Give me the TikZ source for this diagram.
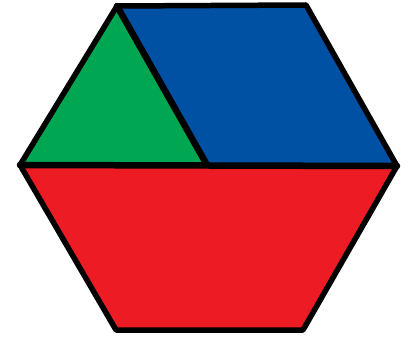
\documentclass[tikz,border=0pt]{standalone}
\definecolor{hgreen}{RGB}{0,166,81}
\definecolor{hblue}{RGB}{0,80,164}
\definecolor{hred}{RGB}{237,28,36}
\tikzset{edge/.style={draw=black,line width=5.5pt,line join=round,line cap=round},
  inner/.style={draw=black,line width=6.5pt,line cap=round}}
\begin{document}
\begin{tikzpicture}[x=1pt,y=-1pt]
\useasboundingbox (0,0) rectangle (409,339);
\coordinate (TL) at (117,6);
\coordinate (TR) at (306,5);
\coordinate (R) at (397,166);
\coordinate (BR) at (303,330);
\coordinate (BL) at (116,330);
\coordinate (L) at (20,165);
\coordinate (M) at (207,165);
\fill[hgreen] (TL) -- (M) -- (L) -- cycle;
\fill[hblue] (TL) -- (TR) -- (R) -- (M) -- cycle;
\fill[hred] (L) -- (R) -- (BR) -- (BL) -- cycle;
\draw[edge] (TL) -- (TR) -- (R) -- (BR) -- (BL) -- (L) -- cycle;
\draw[inner] (L) -- (R);
\draw[inner] (TL) -- (M);
\end{tikzpicture}
\end{document}
